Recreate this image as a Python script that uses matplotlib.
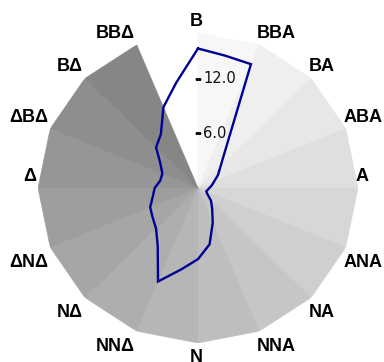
import numpy as np
import matplotlib
matplotlib.use("Agg")
import matplotlib.pyplot as plt

# Compass sectors (Greek initials), clockwise from north
directions = ['B', 'BBA', 'BA', 'ABA', 'A', 'ANA', 'NA', 'NNA',
              'N', 'NNΔ', 'NΔ', 'ΔNΔ', 'Δ', 'ΔBΔ', 'BΔ', 'BBΔ']
direction_deg = [0.0, 22.5, 45.0, 67.5, 90.0, 112.5, 135.0, 157.5,
                 180.0, 202.5, 225.0, 247.5, 270.0, 292.5, 315.0, 337.5]

# Profile sampled every 11.25 degrees
profile_deg = [0.0, 11.25, 22.5, 33.75, 45.0, 56.25, 67.5, 78.75,
               90.0, 101.25, 112.5, 123.75, 135.0, 146.25, 157.5, 168.75,
               180.0, 191.25, 202.5, 213.75, 225.0, 236.25, 247.5, 258.75,
               270.0, 281.25, 292.5, 303.75, 315.0, 326.25, 337.5, 348.75]
profile_val = [15.3, 14.8, 14.7, 5.4, 3.4, 2.55, 1.85, 1.5,
               1.2, 1.05, 0.95, 1.2, 1.95, 2.7, 4.1, 6.3,
               7.8, 9.1, 11.1, 7.7, 6.3, 5.8, 5.5, 4.9,
               4.6, 4.1, 4.1, 4.8, 6.3, 7.1, 9.6, 11.8]

r_ticks = [6.0, 12.0]
R_MAX = 17.0

fig = plt.figure(figsize=(3.84, 3.62), dpi=100)
ax = fig.add_axes([38 / 384, 19 / 362, 320 / 384, 310 / 362], projection='polar')
ax.set_aspect('auto')
ax.set_theta_zero_location('N')
ax.set_theta_direction(-1)
ax.set_ylim(0, R_MAX)
ax.set_axis_off()

# Shaded wedges: each direction's wedge ends at its own bearing,
# getting darker clockwise from the white northern wedge
shades = np.linspace(1.0, 0.525, len(directions))
for k, deg in enumerate(direction_deg):
    t1 = np.deg2rad(deg)
    t0 = np.deg2rad(deg - 22.5)
    g = str(shades[k])
    ax.fill([t0, t0, t1], [0, R_MAX, R_MAX], color=g, ec=g, lw=0.4, zorder=1)

# Profile line
th = np.deg2rad(profile_deg + profile_deg[:1])
rv = profile_val + profile_val[:1]
ax.plot(th, rv, color='#000096', lw=1.7, zorder=3, solid_joinstyle='miter')

# Radial scale ticks along the north axis
ax.plot(np.zeros(len(r_ticks)), r_ticks, ls='none', marker='_', ms=4,
        mew=1.0, color='#111111', zorder=4)
for v in r_ticks:
    ax.annotate(f'{v:.1f}', xy=(0.0, v), xytext=(5, 0), textcoords='offset pixels',
                ha='left', va='center', fontsize=10.5, family='DejaVu Sans',
                color='#111111', zorder=4, annotation_clip=False)

# Direction labels around the rim
for lab, deg in zip(directions, direction_deg):
    a = np.deg2rad(deg)
    s, c = np.sin(a), np.cos(a)
    if abs(s) < 1e-6:
        ha = 'center'
    else:
        ha = 'left' if s > 0 else 'right'
    if c > -1e-6:
        va, dy = 'bottom', 3
    else:
        va, dy = 'top', -6.5
    ax.annotate(lab, xy=(a, R_MAX), xytext=(-2, dy), textcoords='offset pixels',
                ha=ha, va=va, fontsize=13, fontweight='bold',
                family=['Liberation Sans', 'DejaVu Sans'], color='black',
                annotation_clip=False)

fig.savefig('out.png', dpi=100)
